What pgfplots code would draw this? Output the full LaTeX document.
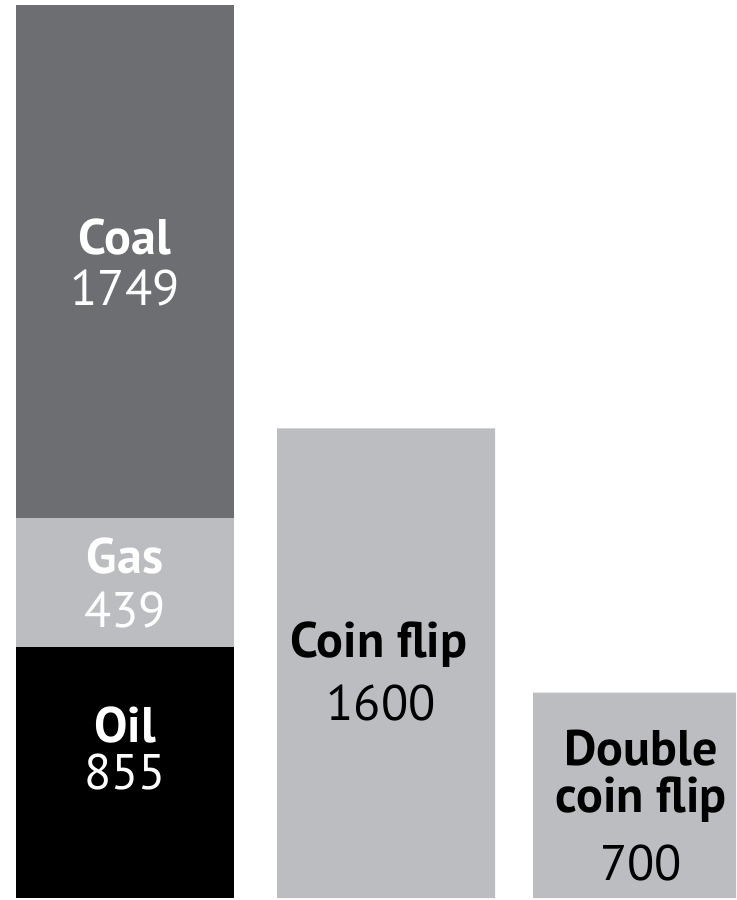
\documentclass[border=0pt]{standalone}
\usepackage{pgfplots}
\pgfplotsset{compat=1.18}
\usepackage{fontspec}
\setmainfont{PT Sans}

\definecolor{coalgray}{HTML}{6D6E71}
\definecolor{lightbar}{HTML}{BCBDC0}

\tikzset{lbl/.style={anchor=base, inner sep=0pt, text height=18.5pt, text depth=4.5pt,
    font=\fontsize{25}{29}\selectfont}}

\begin{document}
\begin{tikzpicture}
  \begin{axis}[
    scale only axis,
    width=368pt, height=450pt,
    hide axis,
    xmin=0, xmax=736,
    ymin=-6.8, ymax=3059.6,
    ybar stacked,
    bar width=218,
  ]
    % bottom segment: oil
    \addplot[draw=none, fill=black] coordinates {(125,855) (386,0) (642,0)};
    % gas
    \addplot[draw=none, fill=lightbar] coordinates {(125,439) (386,0) (642,0)};
    % coal
    \addplot[draw=none, fill=coalgray] coordinates {(125,1749) (386,0) (642,0)};
    % coin flips
    \addplot[draw=none, fill=lightbar] coordinates {(125,0) (386,1600) (642,700)};

    \coordinate (coal) at (axis cs:125,2191);
    \coordinate (coalv) at (axis cs:125,2020);
    \coordinate (gas) at (axis cs:125,1107);
    \coordinate (gasv) at (axis cs:125,920);
    \coordinate (oil) at (axis cs:125,531);
    \coordinate (oilv) at (axis cs:125,368);
    \coordinate (flip) at (axis cs:379,821);
    \coordinate (flipv) at (axis cs:381,606);
    \coordinate (dbl1) at (axis cs:641,452);
    \coordinate (dbl2) at (axis cs:641,290);
    \coordinate (dblv) at (axis cs:641,61);
  \end{axis}
  \node[lbl, white] at (coal) {\bfseries Coal};
  \node[lbl, white] at (coalv) {1749};
  \node[lbl, white] at (gas) {\bfseries Gas};
  \node[lbl, white] at (gasv) {439};
  \node[lbl, white] at (oil) {\bfseries Oil};
  \node[lbl, white] at (oilv) {855};
  \node[lbl] at (flip) {\bfseries Coin flip};
  \node[lbl] at (flipv) {1600};
  \node[lbl] at (dbl1) {\bfseries Double};
  \node[lbl] at (dbl2) {\bfseries coin flip};
  \node[lbl] at (dblv) {700};
  \pgfresetboundingbox
  \path[use as bounding box] (0,0) rectangle (368pt,450pt);
\end{tikzpicture}
\end{document}
